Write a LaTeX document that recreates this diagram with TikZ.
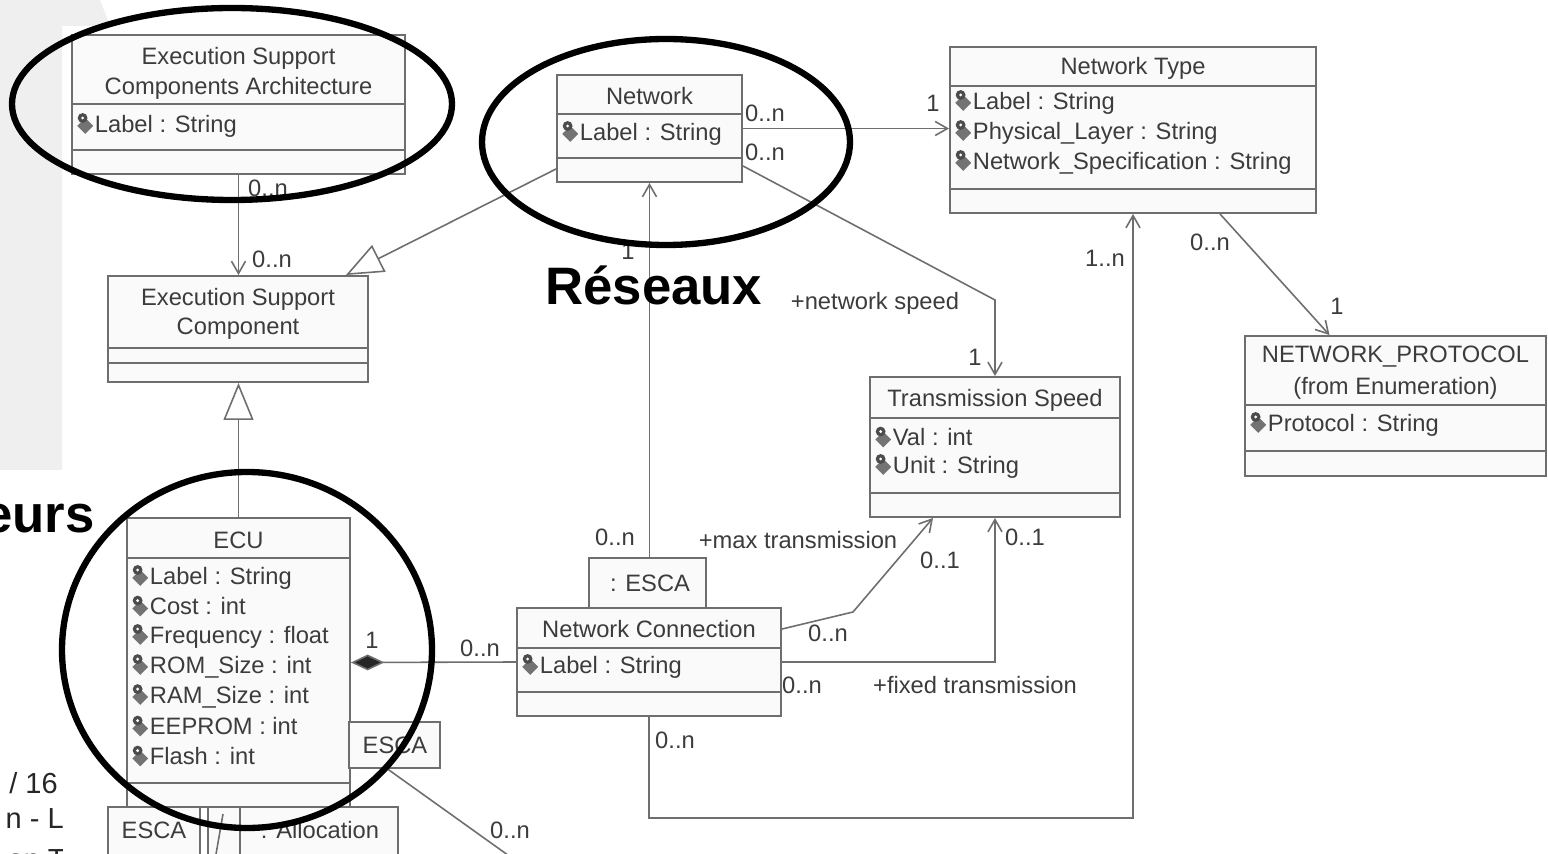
\documentclass[tikz,border=0pt]{standalone}
\usepackage{fontspec}
\setmainfont{Liberation Sans}
\usetikzlibrary{arrows.meta, calc, fit}

\definecolor{umltext}{HTML}{3C3C3C}
\definecolor{umlline}{HTML}{6E6E6E}
\definecolor{umlfill}{HTML}{FAFAFA}
\definecolor{slidegray}{HTML}{EFEFEF}

\newcommand{\umlfont}{\fontsize{13.5}{16}\selectfont}
% little attribute pictogram
\newcommand{\attricon}{\tikz[x=1pt, y=1pt, baseline=0pt]{%
    \fill[black!55] (0,3.5) -- (4.5,8) -- (9,3.5) -- (4.5,-1) -- cycle;
    \fill[black!70] (3,8) circle (2.8);
    \fill[white] (3,8) circle (0.9);}\kern1pt}

\begin{document}
\begin{tikzpicture}[
    x=0.02cm, y=-0.02cm,
    cls/.style={draw=umlline, fill=umlfill, line width=1.1pt, inner sep=0pt},
    cmpline/.style={draw=umlline, line width=1.1pt},
    ttl/.style={text=umltext, font=\umlfont, inner sep=0pt},
    att/.style={ttl, anchor=west},
    assoc/.style={draw=umlline, line width=0.9pt, -{Straight Barb[length=7pt, width=8pt]}},
    gen/.style={draw=umlline, line width=0.9pt, -{Triangle[open, fill=white, length=21pt, width=17pt]}},
    comp/.style={draw=umlline, line width=0.9pt, {Diamond[length=19pt, width=9pt, fill=black!85]}-},
    plainline/.style={draw=umlline, line width=0.9pt},
    hilite/.style={draw=black, line width=3.6pt},
    slidetitle/.style={font=\bfseries\fontsize{30}{36}\selectfont, inner sep=0pt},
    footer/.style={font=\fontsize{16.5}{20}\selectfont, text=black!85, inner sep=0pt, anchor=base east}
]

% Slide background
\useasboundingbox (0,0) rectangle (1548,854);
\clip (0,0) rectangle (1548,854);
\fill[white] (0,0) rectangle (1548,854);
\fill[slidegray] (0,0) -- (100,0) -- (110,26) -- (62,26) -- (62,470) -- (0,470) -- cycle;

% Footer, mostly hidden under the diagram
\begin{scope}
\clip (0,470) rectangle (62,854);
\node[footer] (page) at (58,793) {/ 16};
\node[footer] (foot1) at (64,828) {n - L};
\node[footer] (foot2) at (66,869) {en T};
\end{scope}

% Execution Support Components Architecture
\node[cls, fit={(72,35) (405,174)}] (arch) {};
\draw[cmpline] (arch.west |- 0,104) -- (arch.east |- 0,104);
\draw[cmpline] (arch.west |- 0,150) -- (arch.east |- 0,150);
\node[ttl] (archT1) at (238.5,58) {Execution Support};
\node[ttl] (archT2) at (238.5,88) {Components Architecture};
\node[att] (archA1) at (77,125) {\attricon Label : String};

% Execution Support Component
\node[cls, fit={(108,276) (368,382)}] (esc) {};
\draw[cmpline] (esc.west |- 0,348) -- (esc.east |- 0,348);
\draw[cmpline] (esc.west |- 0,363) -- (esc.east |- 0,363);
\node[ttl] (escT1) at (238,299) {Execution Support};
\node[ttl] (escT2) at (238,329) {Component};

% ECU
\node[cls, fit={(127,518) (350,807)}] (ecu) {};
\draw[cmpline] (ecu.west |- 0,558) -- (ecu.east |- 0,558);
\draw[cmpline] (ecu.west |- 0,783) -- (ecu.east |- 0,783);
\node[ttl] (ecuT) at (238.5,540) {ECU};
\foreach \yy/\txt [count=\i] in {577/Label : String, 606/Cost : int, 636/Frequency : float,
    666/ROM\_Size : int, 696/RAM\_Size : int, 726/EEPROM : int, 756/Flash : int}
    \node[att] (ecuA\i) at (132,\yy) {\attricon \txt};

% Network
\node[cls, fit={(557,75) (742,182)}] (net) {};
\draw[cmpline] (net.west |- 0,114) -- (net.east |- 0,114);
\draw[cmpline] (net.west |- 0,158) -- (net.east |- 0,158);
\node[ttl] (netT) at (649.5,96) {Network};
\node[att] (netA1) at (562,133) {\attricon Label : String};

% Network Type
\node[cls, fit={(950,47) (1316,213)}] (ntype) {};
\draw[cmpline] (ntype.west |- 0,86) -- (ntype.east |- 0,86);
\draw[cmpline] (ntype.west |- 0,189) -- (ntype.east |- 0,189);
\node[ttl] (ntypeT) at (1133,68) {Network Type};
\node[att] (ntypeA1) at (955,102) {\attricon Label : String};
\node[att] (ntypeA2) at (955,132) {\attricon Physical\_Layer : String};
\node[att] (ntypeA3) at (955,162) {\attricon Network\_Specification : String};

% NETWORK_PROTOCOL
\node[cls, fit={(1245,336) (1546,476)}] (proto) {};
\draw[cmpline] (proto.west |- 0,405) -- (proto.east |- 0,405);
\draw[cmpline] (proto.west |- 0,451) -- (proto.east |- 0,451);
\node[ttl] (protoT1) at (1395.5,357) {NETWORK\_PROTOCOL};
\node[ttl] (protoT2) at (1395.5,388) {(from Enumeration)};
\node[att] (protoA1) at (1250,424) {\attricon Protocol : String};

% Transmission Speed
\node[cls, fit={(870,377) (1120,517)}] (speed) {};
\draw[cmpline] (speed.west |- 0,418) -- (speed.east |- 0,418);
\draw[cmpline] (speed.west |- 0,493) -- (speed.east |- 0,493);
\node[ttl] (speedT) at (995,400) {Transmission Speed};
\node[att] (speedA1) at (875,437) {\attricon Val : int};
\node[att] (speedA2) at (875,466) {\attricon Unit : String};

% Network Connection
\node[cls, fit={(517,608) (781,716)}] (conn) {};
\draw[cmpline] (conn.west |- 0,648) -- (conn.east |- 0,648);
\draw[cmpline] (conn.west |- 0,692) -- (conn.east |- 0,692);
\node[ttl] (connT) at (649,629) {Network Connection};
\node[att] (connA1) at (522,666) {\attricon Label : String};

% Role boxes
\node[cls, fit={(589,558) (706,608)}] (escaTop) {};
\node[ttl] (escaTopT) at (650,583) {: ESCA};
\node[cls, fit={(349,722) (440,768)}] (escaR) {};
\node[ttl] (escaRT) at (395,745) {ESCA};
\node[cls, fit={(108,807) (200,870)}] (escaB) {};
\node[ttl] (escaBT) at (154,830) {ESCA};
\node[cls, fit={(208,807) (240,870)}] (slot) {};
\draw[plainline] (215,860) -- (223,814);
\node[cls, fit={(240,807) (398,870)}] (alloc) {};
\node[ttl] (allocT) at (320,830) {: Allocation};

% Associations
\draw[assoc] (arch.south) -- (arch.south |- esc.north);
\node[ttl] (mArch1) at (268,188) {0..n};
\node[ttl] (mArch2) at (272,259) {0..n};

\draw[assoc] (net.east) -- (net.east -| ntype.west);
\node[ttl] (mNet1) at (765,113) {0..n};
\node[ttl] (mNet2) at (933,103) {1};

\coordinate (speedBend) at (995,300);
\draw[assoc] ($(net.south east)+(0,-17)$) -- (speedBend) -- (speed.north);
\node[ttl] (mNet3) at (765,152) {0..n};
\node[ttl] (rNetSpeed) at (875,303) {+network speed};
\node[ttl] (mSpeed1) at (975,357) {1};

\draw[assoc] (net.south |- escaTop.north) -- (net.south);
\node[ttl] (mConn1) at (615,537) {0..n};
\node[ttl] (mNet4) at (628,251) {1};

\coordinate (maxBend) at (853,612);
\draw[assoc] ($(conn.north east)+(0,22)$) -- (maxBend) -- ($(speed.south)+(-62,0)$);
\node[ttl] (mConn2) at (828,633) {0..n};
\node[ttl] (rMax) at (798,540) {+max transmission};
\node[ttl] (mSpeed2) at (940,560) {0..1};

\draw[assoc] (conn.east) -| (speed.south);
\node[ttl] (mConn3) at (802,685) {0..n};
\node[ttl] (rFixed) at (975,685) {+fixed transmission};
\node[ttl] (mSpeed3) at (1025,537) {0..1};

\coordinate (ntypeLow) at (1133,818);
\draw[assoc] (conn.south) |- (ntypeLow) -- (ntype.south);
\node[ttl] (mConn4) at (675,740) {0..n};
\node[ttl] (mNtype1) at (1105,258) {1..n};

\draw[assoc] ($(ntype.south)+(87,0)$) -- ($(proto.north)+(-66,0)$);
\node[ttl] (mNtype2) at (1210,242) {0..n};
\node[ttl] (mProto) at (1337,306) {1};

\draw[comp] (ecu.east) -- (conn.west);
\node[ttl] (mEcu) at (372,640) {1};
\node[ttl] (mConn5) at (480,648) {0..n};

\coordinate (escaExit) at (512,858);
\draw[plainline] ($(escaR.south)+(-7,0)$) -- (escaExit);
\node[ttl] (mEsca) at (510,830) {0..n};

% Generalisations
\draw[gen] ($(net.south west)+(0,-14)$) -- ($(esc.north east)+(-23,0)$);
\draw[gen] (ecu.north) -- (ecu.north |- esc.south);

% Hand-drawn highlights
\draw[hilite] (232,104) ellipse [x radius=220, y radius=96];
\draw[hilite] (666,142) ellipse [x radius=184, y radius=103];
\draw[hilite] (247,650) ellipse [x radius=185, y radius=178];

% Slide labels
\node[slidetitle, anchor=base west] (reseaux) at (545,305) {Réseaux};
\node[slidetitle, anchor=base east] (calcul) at (95,533) {eurs};

\end{tikzpicture}
\end{document}
